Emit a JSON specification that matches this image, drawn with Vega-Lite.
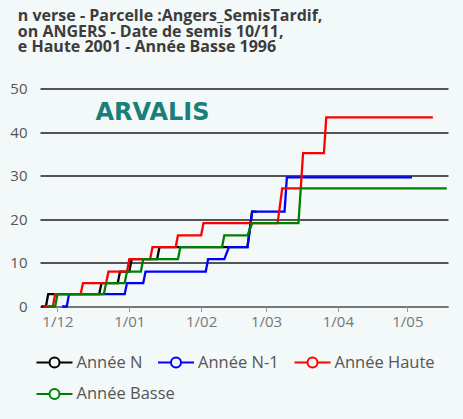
{
  "$schema": "https://vega.github.io/schema/vega-lite/v6.json",
  "width": 408,
  "height": 218,
  "autosize": {"type": "none"},
  "padding": {"left": 40, "top": 88.5, "right": 15, "bottom": 112},
  "background": "#f3f8f9",
  "config": {
    "view": {"stroke": null},
    "legend": {
      "title": null,
      "orient": "none",
      "direction": "horizontal",
      "padding": 0,
      "symbolType": "M-1.8,0H-0.5M0.5,0H1.8M0.5,0A0.5,0.5,0,1,1,-0.5,0A0.5,0.5,0,1,1,0.5,0",
      "symbolSize": 400,
      "symbolStrokeWidth": 2,
      "symbolFillColor": "#f3f8f9",
      "labelOffset": 11,
      "columnPadding": 11.5,
      "labelFont": "Open Sans",
      "labelFontSize": 16.5,
      "labelColor": "#555555"
    },
    "axisX": {
      "title": null,
      "format": "%-d/%m",
      "grid": false,
      "domainColor": "#999999",
      "tickColor": "#999999",
      "tickSize": 5,
      "labelFont": "Open Sans",
      "labelFontSize": 15,
      "labelColor": "#777777",
      "labelPadding": 3
    },
    "axisY": {
      "title": null,
      "grid": true,
      "gridColor": "#1e1e1e",
      "gridWidth": 1.4,
      "domain": false,
      "ticks": false,
      "labelPadding": 13,
      "labelFont": "Open Sans",
      "labelFontSize": 15,
      "labelColor": "#555555"
    }
  },
  "title": {
    "text": ["n verse - Parcelle :Angers_SemisTardif,", "on ANGERS - Date de semis 10/11,", "e Haute 2001 - Année Basse 1996"],
    "anchor": "start",
    "dx": 8,
    "offset": 26,
    "font": "Open Sans",
    "fontSize": 16,
    "fontWeight": "bold",
    "lineHeight": 15.6,
    "color": "#3c3c3c"
  },
  "datasets": {
    "courbes": [
      {"serie": "Année N", "date": "2022-11-24T00:00:00", "v": 0},
      {"serie": "Année N", "date": "2022-11-26T00:00:00", "v": 0},
      {"serie": "Année N", "date": "2022-11-27T00:00:00", "v": 2.84},
      {"serie": "Année N", "date": "2022-12-19T00:00:00", "v": 2.84},
      {"serie": "Année N", "date": "2022-12-20T00:00:00", "v": 5.36},
      {"serie": "Année N", "date": "2022-12-27T00:00:00", "v": 5.36},
      {"serie": "Année N", "date": "2022-12-28T00:00:00", "v": 8.01},
      {"serie": "Année N", "date": "2023-01-01T00:00:00", "v": 8.01},
      {"serie": "Année N", "date": "2023-01-02T00:00:00", "v": 10.85},
      {"serie": "Année N", "date": "2023-01-13T00:00:00", "v": 10.85},
      {"serie": "Année N", "date": "2023-01-14T00:00:00", "v": 13.6},
      {"serie": "Année N", "date": "2023-02-21T00:00:00", "v": 13.6},
      {"serie": "Année N", "date": "2023-02-23T00:00:00", "v": 21.75},
      {"serie": "Année N", "date": "2023-02-25T00:00:00", "v": 21.75},
      {"serie": "Année N-1", "date": "2022-12-03T00:00:00", "v": 0},
      {"serie": "Année N-1", "date": "2022-12-05T00:00:00", "v": 0},
      {"serie": "Année N-1", "date": "2022-12-06T00:00:00", "v": 2.84},
      {"serie": "Année N-1", "date": "2022-12-30T00:00:00", "v": 2.84},
      {"serie": "Année N-1", "date": "2022-12-31T00:00:00", "v": 5.36},
      {"serie": "Année N-1", "date": "2023-01-07T00:00:00", "v": 5.36},
      {"serie": "Année N-1", "date": "2023-01-08T00:00:00", "v": 8.01},
      {"serie": "Année N-1", "date": "2023-02-03T00:00:00", "v": 8.01},
      {"serie": "Année N-1", "date": "2023-02-04T00:00:00", "v": 10.85},
      {"serie": "Année N-1", "date": "2023-02-11T00:00:00", "v": 10.85},
      {"serie": "Année N-1", "date": "2023-02-13T00:00:00", "v": 13.6},
      {"serie": "Année N-1", "date": "2023-02-21T00:00:00", "v": 13.6},
      {"serie": "Année N-1", "date": "2023-02-23T00:00:00", "v": 21.75},
      {"serie": "Année N-1", "date": "2023-03-09T00:00:00", "v": 21.75},
      {"serie": "Année N-1", "date": "2023-03-10T00:00:00", "v": 29.6},
      {"serie": "Année N-1", "date": "2023-05-03T00:00:00", "v": 29.6},
      {"serie": "Année Haute", "date": "2022-11-25T00:00:00", "v": 0},
      {"serie": "Année Haute", "date": "2022-11-29T00:00:00", "v": 0},
      {"serie": "Année Haute", "date": "2022-11-30T00:00:00", "v": 2.84},
      {"serie": "Année Haute", "date": "2022-12-11T00:00:00", "v": 2.84},
      {"serie": "Année Haute", "date": "2022-12-12T00:00:00", "v": 5.36},
      {"serie": "Année Haute", "date": "2022-12-22T00:00:00", "v": 5.36},
      {"serie": "Année Haute", "date": "2022-12-23T00:00:00", "v": 8.01},
      {"serie": "Année Haute", "date": "2022-12-31T00:00:00", "v": 8.01},
      {"serie": "Année Haute", "date": "2023-01-01T00:00:00", "v": 10.85},
      {"serie": "Année Haute", "date": "2023-01-10T00:00:00", "v": 10.85},
      {"serie": "Année Haute", "date": "2023-01-11T00:00:00", "v": 13.6},
      {"serie": "Année Haute", "date": "2023-01-21T00:00:00", "v": 13.6},
      {"serie": "Année Haute", "date": "2023-01-22T00:00:00", "v": 16.3},
      {"serie": "Année Haute", "date": "2023-02-01T00:00:00", "v": 16.3},
      {"serie": "Année Haute", "date": "2023-02-02T00:00:00", "v": 19.1},
      {"serie": "Année Haute", "date": "2023-03-06T00:00:00", "v": 19.1},
      {"serie": "Année Haute", "date": "2023-03-08T00:00:00", "v": 27.1},
      {"serie": "Année Haute", "date": "2023-03-16T00:00:00", "v": 27.1},
      {"serie": "Année Haute", "date": "2023-03-17T00:00:00", "v": 35.2},
      {"serie": "Année Haute", "date": "2023-03-26T00:00:00", "v": 35.2},
      {"serie": "Année Haute", "date": "2023-03-27T00:00:00", "v": 43.4},
      {"serie": "Année Haute", "date": "2023-05-12T00:00:00", "v": 43.4},
      {"serie": "Année Basse", "date": "2022-11-27T00:00:00", "v": 0},
      {"serie": "Année Basse", "date": "2022-11-30T00:00:00", "v": 0},
      {"serie": "Année Basse", "date": "2022-12-01T00:00:00", "v": 2.84},
      {"serie": "Année Basse", "date": "2022-12-21T00:00:00", "v": 2.84},
      {"serie": "Année Basse", "date": "2022-12-22T00:00:00", "v": 5.36},
      {"serie": "Année Basse", "date": "2022-12-30T00:00:00", "v": 5.36},
      {"serie": "Année Basse", "date": "2022-12-31T00:00:00", "v": 8.01},
      {"serie": "Année Basse", "date": "2023-01-06T00:00:00", "v": 8.01},
      {"serie": "Année Basse", "date": "2023-01-07T00:00:00", "v": 10.85},
      {"serie": "Année Basse", "date": "2023-01-22T00:00:00", "v": 10.85},
      {"serie": "Année Basse", "date": "2023-01-23T00:00:00", "v": 13.6},
      {"serie": "Année Basse", "date": "2023-02-10T00:00:00", "v": 13.6},
      {"serie": "Année Basse", "date": "2023-02-11T00:00:00", "v": 16.3},
      {"serie": "Année Basse", "date": "2023-02-21T00:00:00", "v": 16.3},
      {"serie": "Année Basse", "date": "2023-02-23T00:00:00", "v": 19.1},
      {"serie": "Année Basse", "date": "2023-03-15T00:00:00", "v": 19.1},
      {"serie": "Année Basse", "date": "2023-03-16T00:00:00", "v": 27.1},
      {"serie": "Année Basse", "date": "2023-05-18T00:00:00", "v": 27.1}
    ],
    "logo": [{"label": "ARVALIS"}]
  },
  "layer": [
    {
      "data": {"name": "courbes"},
      "transform": [{"filter": "datum.serie !== 'Année Basse'"}],
      "mark": {"type": "line", "strokeWidth": 2.3},
      "encoding": {
        "x": {
          "field": "date", "type": "temporal",
          "scale": {"domain": ["2022-11-23T11:00:00", "2023-05-18T13:00:00"]},
          "axis": {
            "values": [
              {"year": 2022, "month": 12, "date": 1},
              {"year": 2023, "month": 1, "date": 1},
              {"year": 2023, "month": 2, "date": 1},
              {"year": 2023, "month": 3, "date": 1},
              {"year": 2023, "month": 4, "date": 1},
              {"year": 2023, "month": 5, "date": 1}
            ]
          }
        },
        "y": {
          "field": "v", "type": "quantitative",
          "scale": {"domain": [0, 50]},
          "axis": {"values": [0, 10, 20, 30, 40, 50]}
        },
        "color": {
          "field": "serie", "type": "nominal",
          "sort": ["Année N", "Année N-1", "Année Haute"],
          "scale": {"domain": ["Année N", "Année N-1", "Année Haute"], "range": ["#000000", "#0000ff", "#ff0000"]},
          "legend": {"legendX": 3.5, "legendY": 263}
        }
      }
    },
    {
      "data": {"name": "courbes"},
      "transform": [{"filter": "datum.serie === 'Année Basse'"}],
      "mark": {"type": "line", "strokeWidth": 2.3},
      "encoding": {
        "x": {"field": "date", "type": "temporal"},
        "y": {"field": "v", "type": "quantitative"},
        "stroke": {
          "field": "serie", "type": "nominal",
          "scale": {"domain": ["Année Basse"], "range": ["#008000"]},
          "legend": {"legendX": 3.5, "legendY": 294.5}
        }
      }
    },
    {
      "data": {"name": "logo"},
      "mark": {"type": "text", "font": "DejaVu Sans", "fontWeight": "bold", "fontSize": 24, "color": "#1b7f79", "baseline": "middle", "align": "center", "dy": 3},
      "encoding": {
        "x": {"datum": {"year": 2023, "month": 1, "date": 11}, "type": "temporal"},
        "y": {"datum": 45, "type": "quantitative"},
        "text": {"field": "label"}
      }
    }
  ]
}
